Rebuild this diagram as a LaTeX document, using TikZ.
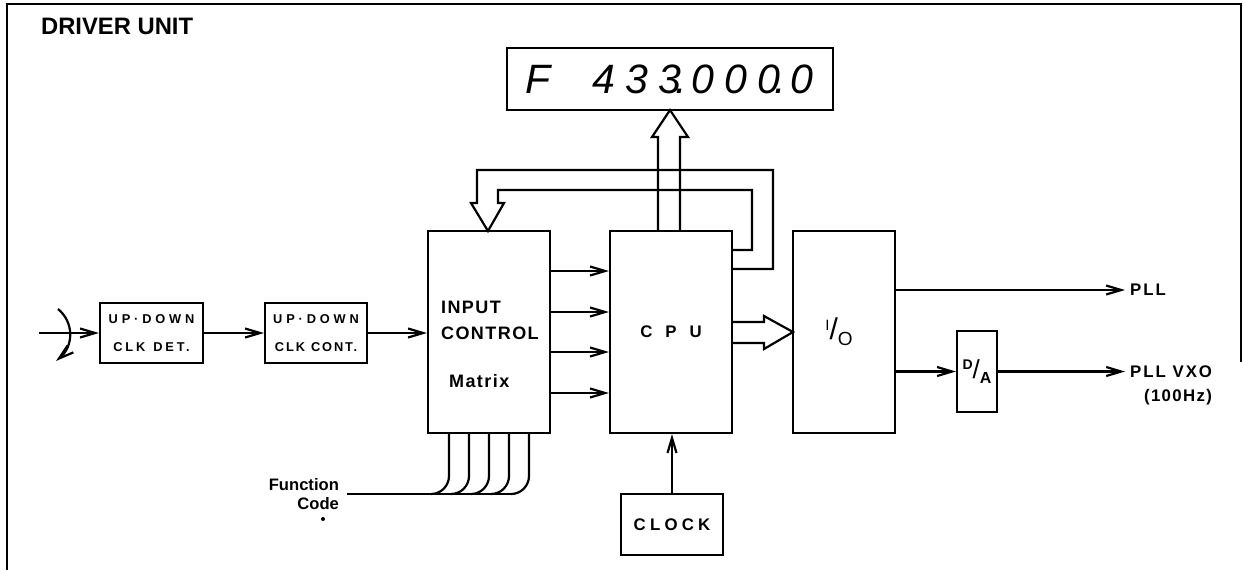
\documentclass[tikz,border=0pt]{standalone}
\usepackage{fontspec}
\setmainfont{Liberation Sans}
\usetikzlibrary{arrows.meta}
\newcommand\dg[1]{\makebox[16.5pt]{#1}}
\newcommand\sdot{\makebox[0pt]{\kern-5pt.}}
\begin{document}
\begin{tikzpicture}[x=0.5pt,y=-0.5pt,line width=1.1pt,
  blk/.style={draw,line width=1.1pt,inner sep=0pt,align=center},
  arr/.style={-{Straight Barb[length=7.5pt,width=4.5pt]}},
  hollow/.style={line join=miter},
  lbl/.style={inner sep=0pt,font=\bfseries\fontsize{8.4}{10}\selectfont}]
\useasboundingbox (0,0) rectangle (1243,570);
% frame
\draw (7,570) -- (7,4) -- (1241,4) -- (1241,362);
\node[anchor=west,inner sep=0pt,font=\bfseries\fontsize{11.9}{13}\selectfont] (title) at (40,26.5) {DRIVER UNIT};
% display
\node[blk,minimum width=163pt,minimum height=31pt,font=\itshape\fontsize{20.5}{22}\selectfont] (disp) at (670,79)
  {\dg{F}\dg{}\dg{4}\dg{3}\dg{3}\sdot\dg{0}\dg{0}\dg{0}\sdot\dg{0}};
% blocks
\node[blk,minimum width=51.5pt,minimum height=30pt,font=\bfseries\fontsize{6.4}{7}\selectfont] (det) at (151.5,333)
  {{\addfontfeatures{LetterSpace=30}UP·DOWN}\\[7pt]{\addfontfeatures{LetterSpace=22}CLK\hspace{4pt}DET.}};
\node[blk,minimum width=51pt,minimum height=30pt,font=\bfseries\fontsize{6.4}{7}\selectfont] (cont) at (316,333)
  {{\addfontfeatures{LetterSpace=30}UP·DOWN}\\[7pt]{\addfontfeatures{LetterSpace=15}CLK\hspace{3pt}CONT.}};
\node[blk,minimum width=61pt,minimum height=101pt] (inp) at (489,332) {};
\node[anchor=north west,inner sep=0pt,align=left,font=\bfseries\fontsize{9}{13}\selectfont\addfontfeatures{LetterSpace=8}] (inptxt) at (440,300) {INPUT\\CONTROL\\[11pt]\hspace*{4pt}Matrix};
\node[blk,minimum width=61pt,minimum height=101pt,font=\bfseries\fontsize{8.4}{10}\selectfont] (cpu) at (671,332) {C\hspace{6.5pt}P\hspace{6.5pt}U};
\node[blk,minimum width=51pt,minimum height=101pt,font=\fontsize{15}{15}\selectfont] (io) at (844,332)
  {\hspace*{-5pt}\raisebox{4.5pt}{\fontsize{7.5}{8}\selectfont I}/\raisebox{-3pt}{\fontsize{9.5}{10}\selectfont O}};
\node[blk,minimum width=20pt,minimum height=40.5pt,font=\fontsize{13}{13}\selectfont] (da) at (977,371.5)
  {\raisebox{4.5pt}{\bfseries\fontsize{7}{8}\selectfont D}/\raisebox{-2.5pt}{\bfseries\fontsize{8}{9}\selectfont A}};
\node[blk,minimum width=51pt,minimum height=30.5pt,font=\bfseries\fontsize{8.4}{10}\selectfont\addfontfeatures{LetterSpace=25}] (clock) at (672,524.5) {CLOCK};
% outputs
\node[lbl,anchor=west,inner sep=2pt,font=\bfseries\fontsize{8.4}{10}\selectfont\addfontfeatures{LetterSpace=12}] (pll) at (1125,290) {PLL};
\node[lbl,anchor=west,inner sep=2pt,font=\bfseries\fontsize{8.4}{10}\selectfont\addfontfeatures{LetterSpace=12}] (vxo) at (1125,371.5) {PLL VXO};
\node[lbl,anchor=east,font=\bfseries\fontsize{8.4}{10}\selectfont\addfontfeatures{LetterSpace=8}] (hz) at (1213,397) {(100Hz)};
\node[lbl,anchor=east,align=right,font=\bfseries\fontsize{8.3}{9.5}\selectfont] (fc) at (340,494) {Function\\Code};
\fill (323,519) circle (1pt);
% input chain
\coordinate (src) at (39,333);
\draw[arr] (src) -- (det.west);
\draw[arr] (58,309) .. controls (74,322) and (74,346) .. (56,361);
\draw[arr] (det.east) -- (cont.west);
\draw[arr] (cont.east) -- (inp.west |- cont.east);
% matrix to cpu
\foreach \yy in {271,312,352,393}
  \draw[arr] (inp.east |- 0,\yy) -- (cpu.west |- 0,\yy);
% function code bus
\coordinate (bus) at (511,494);
\draw ([xshift=3.5pt]fc.east) -- (bus);
\foreach \bx in {449,469,489,509,529}
  \draw[rounded corners=9pt] (inp.south -| \bx,0) -- (\bx,494) -- ({\bx-18},494);
% clock
\draw[arr] (clock.north) -- (clock.north |- cpu.south);
% cpu to display
\draw[hollow] (658,231) -- (658,137) -- (652,137) -- (670,110) -- (688,137) -- (680,137) -- (680,231);
% feedback
\draw[hollow] (732,269) -- (773,269) -- (773,170) -- (477,170) -- (477,203) -- (471,203) -- (488,231)
  -- (504,203) -- (498,203) -- (498,190) -- (752,190) -- (752,250) -- (732,250);
% cpu to io
\draw[hollow] (732,322) -- (764,322) -- (764,316) -- (793,332) -- (764,349) -- (764,343) -- (732,343);
% io outputs
\draw[arr] (io.east |- pll.west) -- (pll.west);
\draw[arr] (io.east |- da.west) -- (da.west);
\draw[arr] (da.east) -- (vxo.west |- da.east);
\end{tikzpicture}
\end{document}
